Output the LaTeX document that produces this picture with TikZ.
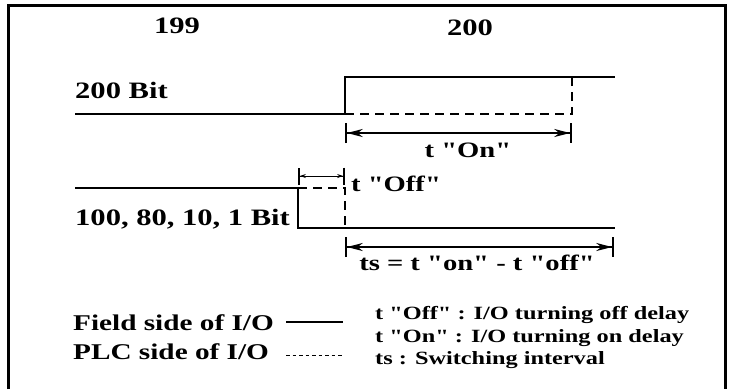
\documentclass[tikz,border=0pt]{standalone}
\usepackage{fontspec}
\setmainfont[FakeStretch=1.3, Ligatures=TeXOff]{Liberation Serif}
\usetikzlibrary{arrows.meta}

\begin{document}
\begin{tikzpicture}[
  x=1pt, y=-1pt,
  frame/.style={line width=3pt},
  sig/.style={line width=2.4pt},
  plc/.style={line width=2.4pt, dash pattern=on 9pt off 6pt},
  dimarr/.style={line width=1.8pt,
    {Bar[width=20pt]Stealth[length=16pt,width=8pt]}-{Stealth[length=16pt,width=8pt]Bar[width=20pt]}},
  smallarr/.style={line width=0.8pt,
    {Bar[width=17pt,line width=1.8pt]Stealth[length=6pt,width=4pt]}-{Stealth[length=6pt,width=4pt]Bar[width=17pt,line width=1.8pt]}},
  lbl/.style={font=\fontsize{23.5}{28}\selectfont\bfseries, inner sep=0pt},
  dimlbl/.style={font=\fontsize{22}{26}\selectfont\bfseries, inner sep=0pt},
  legtxt/.style={font=\fontsize{22.5}{26}\selectfont\bfseries, inner sep=0pt, anchor=base west},
  keytxt/.style={font=\fontsize{18.7}{22}\selectfont\bfseries, inner sep=0pt, anchor=base west}
]
\useasboundingbox (0,0) rectangle (733,389);

% frame, open at the bottom
\coordinate (fr1) at (8,389);
\coordinate (fr2) at (8,5);
\coordinate (fr3) at (725,5);
\coordinate (fr4) at (725,389);
\draw[frame] (fr1) -- (fr2) -- (fr3) -- (fr4);

% scan numbers
\node[lbl, anchor=base] (scan1) at (177,33) {199};
\node[lbl, anchor=base] (scan2) at (470,35) {200};

% 200 Bit
\node[lbl, anchor=base west] (hibit) at (75,98) {200 Bit};
\coordinate (a0) at (75,114);
\coordinate (arise) at (345,114);
\coordinate (atop) at (345,77);
\coordinate (aend) at (615,77);
\coordinate (aon) at (572,114);
\coordinate (aonhi) at (572,77);
\draw[sig] (a0) -- (arise) -- (atop) -- (aend);
\draw[plc] (arise) -- (aon) -- (aonhi);

\coordinate (on1) at (345,133);
\coordinate (on2) at (572,133);
\draw[dimarr] (on1) -- (on2);
\node[dimlbl, anchor=base] (ton) at (468,157) {t "On"};

% 100, 80, 10, 1 Bit
\node[lbl, anchor=base west] (lobit) at (75,225) {100, 80, 10, 1 Bit};
\coordinate (b0) at (75,188);
\coordinate (bfall) at (298,188);
\coordinate (blow) at (298,228);
\coordinate (bend) at (615,228);
\coordinate (boff) at (345,188);
\coordinate (bofflo) at (345,228);
\draw[sig] (b0) -- (bfall) -- (blow) -- (bend);
\draw[plc] (bfall) -- (boff) -- (bofflo);

\coordinate (off1) at (298,176);
\coordinate (off2) at (345,176);
\draw[smallarr] (off1) -- (off2);
\node[dimlbl, anchor=base west] (toff) at (351,191) {t "Off"};

\coordinate (ts1) at (345,247);
\coordinate (ts2) at (614,247);
\draw[dimarr] (ts1) -- (ts2);
\node[dimlbl, anchor=base] (tsl) at (477,270) {ts = t "on" - t "off"};

% legend
\node[legtxt] (field) at (73,330) {Field side of I/O};
\coordinate (fl1) at (286,322);
\coordinate (fl2) at (343,322);
\draw[line width=1.5pt] (fl1) -- (fl2);
\node[legtxt] (plcside) at (73,359) {PLC side of I/O};
\coordinate (pl1) at (286,355);
\coordinate (pl2) at (343,355);
\draw[line width=1pt, dash pattern=on 3.5pt off 3pt] (pl1) -- (pl2);

\node[keytxt] (k1) at (375,319) {t "Off" : I/O turning off delay};
\node[keytxt] (k2) at (375,342) {t "On" : I/O turning on delay};
\node[keytxt] (k3) at (375,364) {ts : Switching interval};

\end{tikzpicture}
\end{document}
